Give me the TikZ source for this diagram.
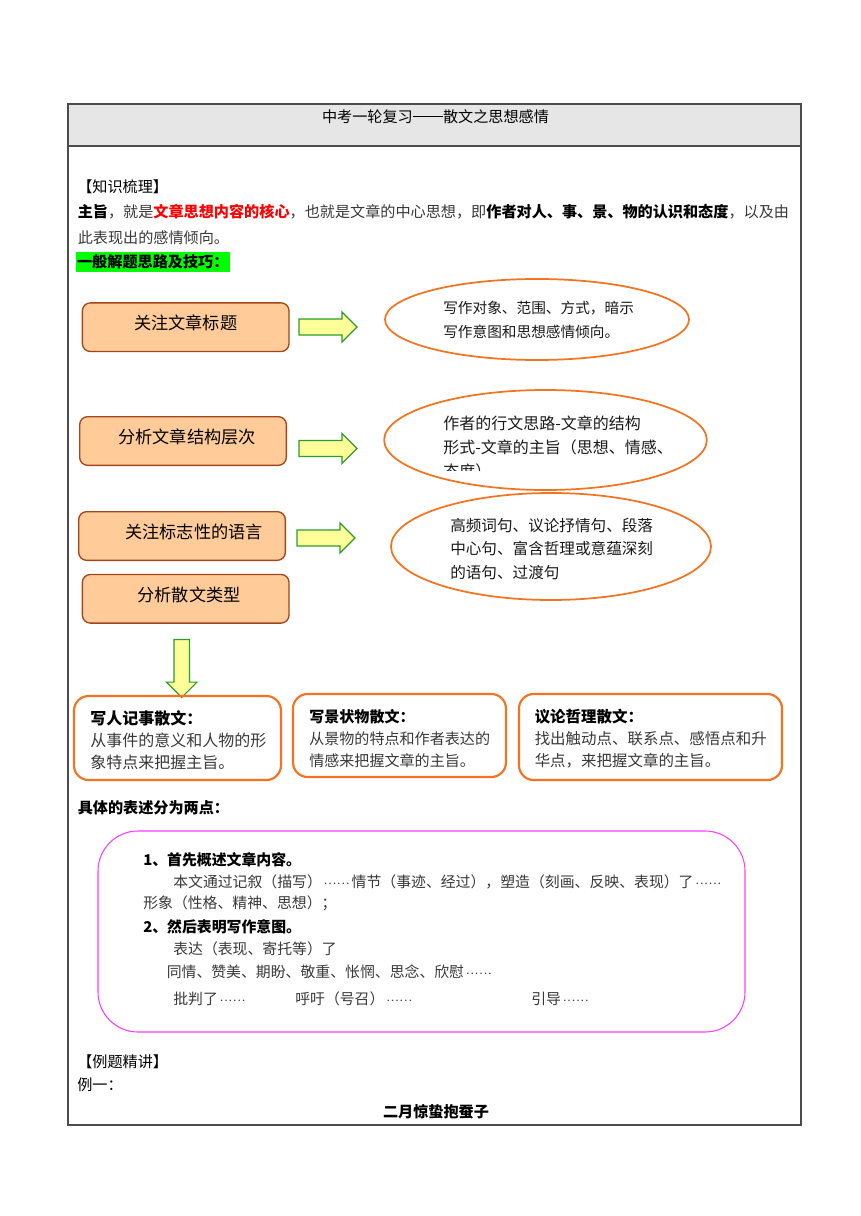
\documentclass[tikz,border=0pt]{standalone}
\usepackage{fontspec}
\setmainfont{Noto Sans CJK SC}
\usetikzlibrary{shapes.geometric,shapes.arrows}

\definecolor{headgray}{HTML}{E6E6E6}
\definecolor{keyred}{HTML}{FF0000}
\definecolor{marker}{HTML}{00FF00}
\definecolor{peach}{HTML}{FFCC99}
\definecolor{peachedge}{HTML}{A3461C}
\definecolor{ovalorange}{HTML}{F4731F}
\definecolor{arrowfill}{HTML}{FFFF99}
\definecolor{arrowedge}{HTML}{2E9B2E}
\definecolor{pinkline}{HTML}{FF3CFF}

% full-width ellipsis and dash
\newcommand\liudian{\makebox[2em][s]{\hspace{0.12em}$\cdotp$\hfil$\cdotp$\hfil$\cdotp$\hfil$\cdotp$\hfil$\cdotp$\hfil$\cdotp$\hspace{0.12em}}}
\newcommand\pozhe{\raisebox{0.36em}{\rule{2em}{0.08em}}}

\tikzset{
  txt/.style={anchor=west, inner sep=0pt, text=black!78, font=\fontsize{11.35}{14}\selectfont},
  heavy/.style={txt, text=black},
  strong/.style={txt, text=black, font=\fontsize{11.35}{14}\selectfont\bfseries},
  pinktxt/.style={txt, font=\fontsize{11.15}{14}\selectfont},
  pinkstrong/.style={strong, font=\fontsize{11.15}{14}\selectfont\bfseries},
  stepbox/.style={draw=peachedge, fill=peach, line width=1pt, rounded corners=6pt,
    minimum width=155pt, minimum height=36.5pt, inner sep=0pt,
    text height=11pt, text depth=7pt, font=\fontsize{12.9}{15}\selectfont},
  oval/.style={ellipse, draw=ovalorange, line width=1.3pt, inner sep=0pt},
  ovaltext/.style={anchor=west, inner sep=0pt, align=left, text=black!90},
  kindbox/.style={draw=ovalorange, line width=1.6pt, rounded corners=11pt, inner sep=0pt},
  kindtext/.style={anchor=west, inner sep=0pt, align=left, text=black!78,
    font=\fontsize{11.6}{16.5}\selectfont},
  fatarrow/.style={single arrow, draw=arrowedge, fill=arrowfill, line width=0.9pt,
    minimum height=43.5pt, inner sep=5.6pt, single arrow head extend=5.2pt},
}

\begin{document}
\begin{tikzpicture}[x=0.75pt,y=-0.75pt]
	\useasboundingbox (0,0) rectangle (860,1216);

	% Taula
	\fill[headgray] (68,104) rectangle (801,146);
	\draw[black!70, line width=0.9pt] (68,104) rectangle (801,1125);
	\draw[black!70, line width=0.9pt] (68,146) -- (801,146);
	\node[heavy, anchor=center] (title) at (435.5,116.5) {中考一轮复习\pozhe 散文之思想感情};

	% Text inicial
	\node[heavy] (zhishi) at (77,186.5) {【知识梳理】};
	\node[txt] (zhuzhi1) at (77.5,212) {{\bfseries\color{black}主旨}，就是{\bfseries\color{keyred}文章思想内容的核心}，也就是文章的中心思想，即{\bfseries\color{black}作者对人、事、景、物的认识和态度}，以及由};
	\node[txt] (zhuzhi2) at (77.5,237.5) {此表现出的感情倾向。};
	\node[strong, fill=marker, inner xsep=1pt, inner ysep=1.8pt] (jiqiao) at (75.5,262) {一般解题思路及技巧：};

	% Caixes
	\node[stepbox] (biaoti) at (185.7,327.2) {关注文章标题};
	\node[stepbox] (jiegou) at (183,441) {\hspace*{6pt}分析文章结构层次};
	\node[stepbox] (yuyan) at (182,536) {\hspace*{18pt}关注标志性的语言};
	\node[stepbox] (leixing) at (185.7,598.8) {\hspace*{5pt}分析散文类型};

	% Fletxes
	\node[fatarrow] (arr1) at (324,327) {};
	\node[fatarrow] (arr2) at (324,448.5) {};
	\node[fatarrow] (arr3) at (322,538) {};
	\node[fatarrow, shape border rotate=270, inner sep=5.4pt, single arrow head extend=5.6pt] (arr4) at (181.7,664.5) {};

	% El·lipses
	\node[oval, minimum width=228pt, minimum height=60.75pt] (tuo1) at (537,319.5) {};
	\node[oval, minimum width=242pt, minimum height=75pt] (tuo2) at (545.5,440) {};
	\node[oval, minimum width=240pt, minimum height=80.25pt] (tuo3) at (551,546.5) {};

	\node[ovaltext, font=\fontsize{11}{17.8}\selectfont] (tuo1txt) at (443,320) {写作对象、范围、方式，暗示\\写作意图和思想感情倾向。};
	\begin{scope}
		\clip (390,400) rectangle (720,470);
		\node[ovaltext, font=\fontsize{12}{18}\selectfont] (tuo2txt) at (443,447) {作者的行文思路-文章的结构\\形式-文章的主旨（思想、情感、\\态度）};
	\end{scope}
	\node[ovaltext, font=\fontsize{11.7}{17.3}\selectfont] (tuo3txt) at (450,549) {高频词句、议论抒情句、段落\\中心句、富含哲理或意蕴深刻\\的语句、过渡句};

	% Tipus de prosa
	\node[kindbox, minimum width=155.25pt, minimum height=63pt] (xieren) at (177.5,738) {};
	\node[kindbox, minimum width=159.75pt, minimum height=62.25pt] (xiejing) at (399.5,735.5) {};
	\node[kindbox, minimum width=197.25pt, minimum height=64.5pt] (yilun) at (650.5,737) {};

	\node[kindtext, font=\fontsize{12}{16.5}\selectfont] (xierentxt) at (90,740) {{\bfseries\color{black}写人记事散文：}\\从事件的意义和人物的形\\象特点来把握主旨。};
	\node[kindtext, font=\fontsize{11.3}{16.5}\selectfont] (xiejingtxt) at (309,738.5) {{\bfseries\color{black}写景状物散文：}\\从景物的特点和作者表达的\\情感来把握文章的主旨。};
	\node[kindtext] (yiluntxt) at (534.5,739) {{\bfseries\color{black}议论哲理散文：}\\找出触动点、联系点、感悟点和升\\华点，来把握文章的主旨。};

	% Dues parts
	\node[strong] (liangdian) at (77.5,808) {具体的表述分为两点：};
	\node[draw=pinkline, line width=0.8pt, rounded corners=30pt, minimum width=485.25pt, minimum height=150.75pt, inner sep=0pt] (biaoshu) at (421.5,931.5) {};

	\node[pinkstrong] (bs1) at (143,860) {1、首先概述文章内容。};
	\node[pinktxt] (bs2) at (173,882) {本文通过记叙（描写）\liudian 情节（事迹、经过），塑造（刻画、反映、表现）了\liudian};
	\node[pinktxt] (bs3) at (143,903.5) {形象（性格、精神、思想）；};
	\node[pinkstrong] (bs4) at (143,927) {2、然后表明写作意图。};
	\node[pinktxt] (bs5) at (173,948.5) {表达（表现、寄托等）了};
	\node[pinktxt] (bs6) at (166.5,971.5) {同情、赞美、期盼、敬重、怅惘、思念、欣慰\liudian};
	\node[pinktxt] (bs7) at (173,999) {批判了\liudian};
	\node[pinktxt] (bs8) at (295,999) {呼吁（号召）\liudian};
	\node[pinktxt] (bs9) at (531,999) {引导\liudian};

	% Exemple
	\node[heavy] (liti) at (77,1061.5) {【例题精讲】};
	\node[heavy] (liyi) at (77,1085) {例一：};
	\node[strong, anchor=center] (timu) at (436,1111.5) {二月惊蛰抱蚕子};

\end{tikzpicture}
\end{document}
